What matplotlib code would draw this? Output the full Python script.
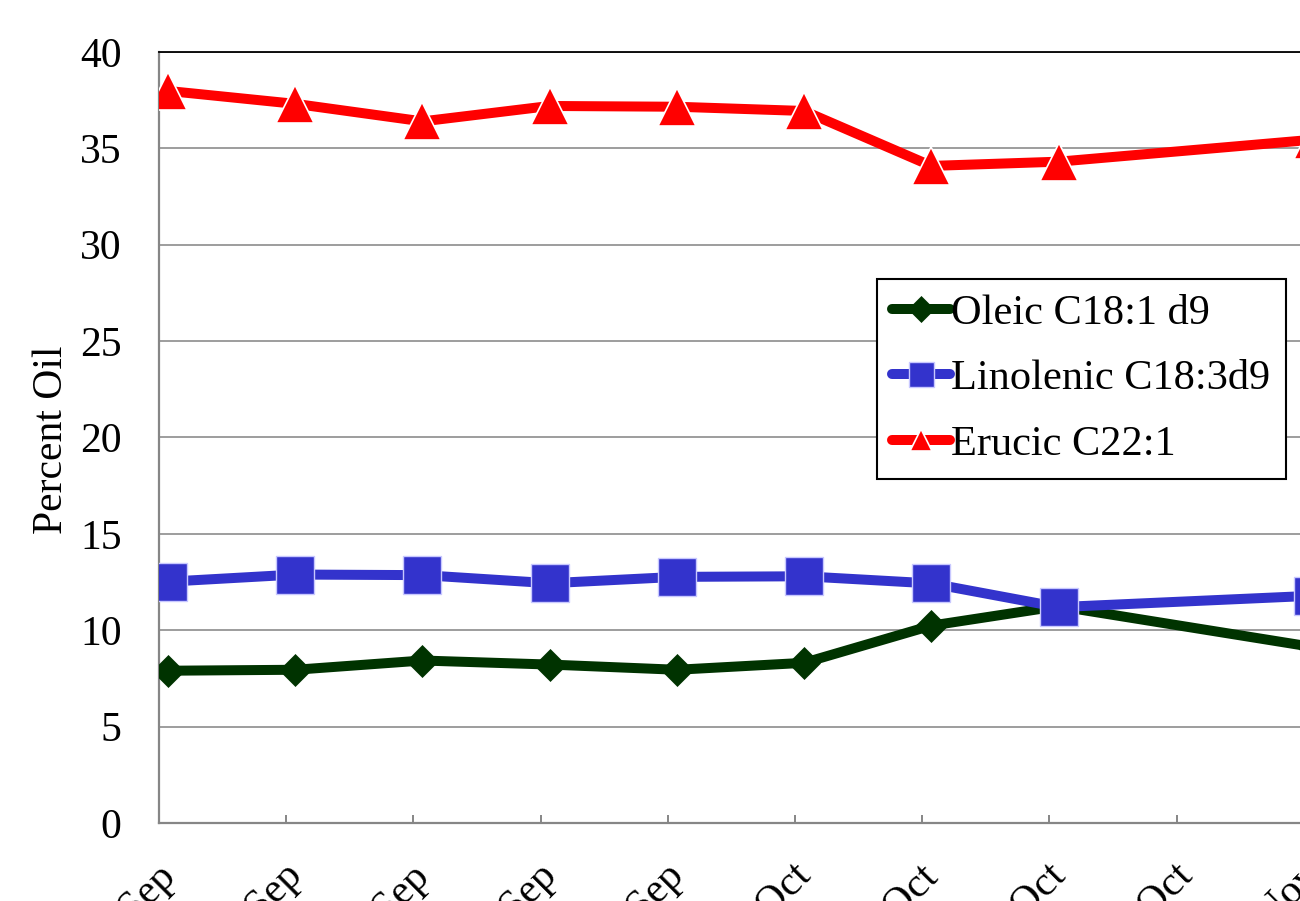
import matplotlib
matplotlib.use("Agg")
import matplotlib.pyplot as plt
import matplotlib.dates as mdates
import matplotlib.transforms as mtransforms
import numpy as np
import pandas as pd

plt.rcParams['font.family'] = ['Liberation Serif', 'DejaVu Serif']

# Sampling dates and fatty-acid composition (percent of oil)
sample_dates = ['2009-09-01', '2009-09-08', '2009-09-15', '2009-09-22', '2009-09-29',
                '2009-10-06', '2009-10-13', '2009-10-20', '2009-11-03']
oleic = [7.90, 7.95, 8.43, 8.22, 7.95, 8.31, 10.24, 11.25, 9.13]
linolenic = [12.52, 12.89, 12.86, 12.44, 12.77, 12.80, 12.43, 11.20, 11.79]
erucic = [37.98, 37.31, 36.40, 37.20, 37.16, 36.94, 34.09, 34.31, 35.45]

series_names = ['Oleic C18:1 d9', 'Linolenic C18:3d9', 'Erucic C22:1']
tick_start = '2009-09-01'
axis_end = '2009-11-04'
y_ticks = [0, 5, 10, 15, 20, 25, 30, 35, 40]

W, H = 1300, 901
fig = plt.figure(figsize=(W / 100, H / 100), dpi=100)

# plot area runs past the right-hand edge of the figure
left_px, right_px, top_px, bottom_px = 159, 1322, 52, 823
ax = fig.add_axes([left_px / W, 1 - bottom_px / H,
                   (right_px - left_px) / W, (bottom_px - top_px) / H])

# each point sits in the middle of its day slot on the date axis
x = mdates.date2num(pd.to_datetime(sample_dates)) + 0.5

ax.plot(x, oleic, color='#003300', lw=7.2, marker='D', ms=16,
        mfc='#003300', mec='#003300', mew=0.5, label=series_names[0], zorder=3)
ax.plot(x, linolenic, color='#3333cc', lw=7.2, marker='s', ms=28,
        mfc='#3333cc', mec='#c8c8ff', mew=1.0, label=series_names[1], zorder=4)
ax.plot(x, erucic, color='#ff0000', lw=7.2, marker='^', ms=27,
        mfc='#ff0000', mec='white', mew=1.2, label=series_names[2], zorder=5)

ax.set_xlim(mdates.date2num(pd.Timestamp(tick_start)), mdates.date2num(pd.Timestamp(axis_end)))
ax.set_ylim(0, 40)
ax.set_yticks(y_ticks)

tick_dates = pd.date_range(tick_start, periods=10, freq='7D')
ax.set_xticks(mdates.date2num(tick_dates))
ax.set_xticklabels([f"{d.day}-{d.strftime('%b')}" for d in tick_dates])

ax.grid(axis='y', color='#8c8c8c', lw=1.2)
ax.set_axisbelow(True)

for side in ('left', 'bottom'):
    ax.spines[side].set_color('#868686')
    ax.spines[side].set_linewidth(1.6)
ax.spines['top'].set_color('black')
ax.spines['top'].set_linewidth(1.3)
ax.spines['right'].set_visible(False)

ax.tick_params(axis='y', length=0, pad=27, labelsize=30)
ax.tick_params(axis='x', direction='in', length=6, width=1.4, color='#868686',
               pad=33, labelsize=30)

shift = mtransforms.ScaledTranslation(10 / 100, 0, fig.dpi_scale_trans)
for lab in ax.get_xticklabels():
    lab.set_rotation(45)
    lab.set_ha('right')
    lab.set_va('center')
    lab.set_rotation_mode('anchor')
    lab.set_transform(lab.get_transform() + shift)

fig.text(52 / W, 1 - 440 / H, 'Percent Oil', rotation=90, ha='center', va='center',
         fontsize=30)

leg = fig.legend(loc='upper left', bbox_to_anchor=(877 / W, 1 - 279 / H),
                 bbox_transform=fig.transFigure, fontsize=30.5, frameon=True,
                 fancybox=False, edgecolor='black', framealpha=1, borderpad=0.36,
                 borderaxespad=0, handlelength=1.36, handletextpad=0.03,
                 labelspacing=0.63)
leg.get_frame().set_linewidth(1.5)
for line, size in zip(leg.get_lines(), [13, 18, 16]):
    line.set_solid_capstyle('round')
    line.set_markersize(size)

fig.savefig('out.png', dpi=100)
